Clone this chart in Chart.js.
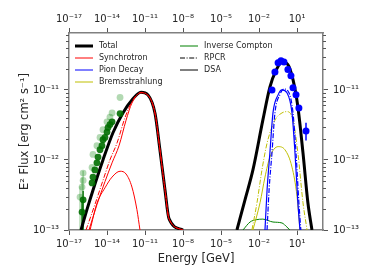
<!DOCTYPE html>
<html>
<head>
<meta charset="utf-8">
<script src="https://cdn.jsdelivr.net/npm/chart.js@4.4.1/dist/chart.umd.min.js"></script>
<style>
  body { margin: 0; background: #fff; }
</style>
</head>
<body>
<canvas id="sedChart" width="374" height="280"></canvas>
<script>
// axis ticks
const energyTicks = [1e-17, 1e-14, 1e-11, 1e-8, 1e-5, 1e-2, 1e1];
const energyTickLabels = ['10⁻¹⁷', '10⁻¹⁴', '10⁻¹¹', '10⁻⁸', '10⁻⁵', '10⁻²', '10¹'];
const fluxTicks = [1e-13, 1e-12, 1e-11];
const fluxTickLabels = ['10⁻¹³', '10⁻¹²', '10⁻¹¹'];

// Total model (radio / X-ray hump and gamma hump)
const totalLowE = [8.9e-17, 2.6e-16, 7.8e-16, 4.8e-15, 2.95e-14, 1.8e-13, 9.3e-13, 4.8e-12, 1.7e-11, 6.2e-11, 1.5e-10, 3.8e-10, 7.8e-10, 1.0e-8];
const totalLowF = [1.0e-13, 1.95e-13, 3.7e-13, 1.0e-12, 2.45e-12, 4.7e-12, 7.2e-12, 9.3e-12, 8.5e-12, 4.6e-12, 1.4e-12, 3.7e-13, 1.45e-13, 1.0e-13];
const totalHighE = [1.8e-4, 7.8e-4, 3.3e-3, 2.0e-2, 7.2e-2, 0.22, 0.65, 1.9, 4.8, 11.7, 29.5, 72, 151];
const totalHighF = [1.0e-13, 2.7e-13, 7.2e-13, 3.7e-12, 1.1e-11, 1.9e-11, 2.5e-11, 2.3e-11, 1.4e-11, 5.7e-12, 1.26e-12, 2.45e-13, 1.0e-13];

// Synchrotron
const synRpcrE = [2.2e-16, 1.1e-15, 4.8e-15, 1.7e-14, 6.2e-14, 2.6e-13, 9.3e-13, 4.8e-12, 1.7e-11, 6.2e-11, 1.5e-10, 3.8e-10, 7.8e-10, 1.0e-8];
const synRpcrF = [1.0e-13, 2.3e-13, 5.1e-13, 1.0e-12, 1.75e-12, 4.0e-12, 6.8e-12, 9.2e-12, 8.4e-12, 4.6e-12, 1.4e-12, 3.7e-13, 1.45e-13, 1.0e-13];
const synE = [3.8e-16, 1.6e-15, 6.9e-15, 2.5e-14, 8.9e-14, 3.2e-13, 9.3e-13, 4.8e-12, 1.7e-11, 6.2e-11, 1.5e-10, 3.8e-10, 7.8e-10, 1.0e-8];
const synF = [1.0e-13, 2.3e-13, 4.9e-13, 9.1e-13, 1.6e-12, 3.7e-12, 6.5e-12, 9.1e-12, 8.4e-12, 4.6e-12, 1.4e-12, 3.7e-13, 1.45e-13, 1.0e-13];
const synDsaE = [4.6e-16, 1.6e-15, 6.9e-15, 2.5e-14, 1.07e-13, 3.2e-13, 9.3e-13, 2.3e-12, 4.0e-12];
const synDsaF = [1.0e-13, 2.4e-13, 4.0e-13, 5.7e-13, 6.9e-13, 6.3e-13, 4.1e-13, 1.95e-13, 1.0e-13];

// Pion decay
const pionE = [0.0295, 0.043, 0.072, 0.126, 0.32, 0.65, 1.6, 4.0, 6.9, 11.7, 17];
const pionF = [1.0e-13, 3.7e-13, 1.26e-12, 4.7e-12, 8.5e-12, 1.0e-11, 9.1e-12, 4.7e-12, 1.26e-12, 2.45e-13, 1.0e-13];
const pionRpcrE = [0.043, 0.062, 0.105, 0.18, 0.46, 0.93, 2.3, 4.8, 8.3, 14, 20];
const pionRpcrF = [1.0e-13, 3.7e-13, 1.26e-12, 4.7e-12, 8.7e-12, 1.03e-11, 9.1e-12, 4.7e-12, 1.26e-12, 2.45e-13, 1.0e-13];

// Bremsstrahlung
const bremRpcrE = [2.75e-3, 6.9e-3, 0.017, 0.043, 0.18, 0.65, 1.6, 4.8, 11.7, 29.5, 62];
const bremRpcrF = [1.0e-13, 2.45e-13, 7.2e-13, 1.74e-12, 3.7e-12, 4.7e-12, 4.9e-12, 3.7e-12, 1.26e-12, 2.45e-13, 1.0e-13];
const bremE = [3.3e-3, 0.012, 0.0295, 0.072, 0.32, 1.1, 4.0, 10, 17];
const bremF = [1.0e-13, 2.45e-13, 5.7e-13, 1.1e-12, 1.55e-12, 1.4e-12, 7.9e-13, 3.0e-13, 1.0e-13];

// Inverse Compton
const icE = [5.4e-4, 1.95e-3, 5.8e-3, 0.02, 0.126, 0.65, 1.6, 2.75];
const icF = [1.0e-13, 1.3e-13, 1.4e-13, 1.43e-13, 1.3e-13, 1.26e-13, 1.1e-13, 1.0e-13];

// gamma-ray points
const fermiE = [0.105, 0.18, 0.32, 0.54, 0.93, 1.9, 3.3, 4.8, 8.3, 14, 51];
const fermiF = [1.0e-11, 1.8e-11, 2.45e-11, 2.6e-11, 2.5e-11, 1.95e-11, 1.6e-11, 1.07e-11, 8.5e-12, 5.5e-12, 2.6e-12];
const fermiLo = [null, null, null, null, null, null, null, null, null, null, 1.9e-12];
const fermiHi = [null, null, null, null, null, null, null, null, null, null, 3.4e-12];

// radio points
const radioE = [1.07e-16, 1.3e-16, 6.6e-16, 7.8e-16, 1.1e-15, 1.6e-15, 1.95e-15, 2.8e-15, 4.0e-15, 4.8e-15, 6.9e-15, 1.0e-14, 1.2e-14, 1.7e-14, 2.5e-14, 1.07e-13];
const radioF = [1.8e-13, 2.7e-13, 4.7e-13, 5.7e-13, 7.2e-13, 9.1e-13, 1.1e-12, 1.4e-12, 1.6e-12, 1.95e-12, 2.1e-12, 2.5e-12, 2.9e-12, 3.2e-12, 3.5e-12, 4.6e-12];
const radioLo = [5e-14, 5e-14];
const radioHi = [2.6e-13, 3.6e-13];
const radioOldE = [7.4e-17, 1.07e-16, 1.3e-16, 1.3e-16, 6.6e-16, 7.8e-16, 1.6e-15, 2.8e-15, 4.8e-15, 1.0e-14, 1.7e-14, 2.5e-14, 1.07e-13];
const radioOldF = [2.95e-13, 4.1e-13, 5.1e-13, 6.5e-13, 7.8e-13, 1.2e-12, 1.6e-12, 2.1e-12, 2.7e-12, 3.5e-12, 4.1e-12, 4.7e-12, 7.8e-12];
const radioOldLo = [5e-14, 5e-14, 5e-14];
const radioOldHi = [4.2e-13, 5.6e-13, 7.0e-13];

const xMin = 1e-17, xMax = 1.12e3;
const yMin = 1e-13, yMax = 6.5e-11;

const FONT = 'DejaVu Sans';
const TEXT = '#262626';
const DASHDOT = [5, 1.6, 1, 1.6];

function pts(xs, ys) {
    return xs.map((x, i) => ({ x: x, y: ys[i] }));
}

function curve(xs, ys, color, width, dash, order) {
    return {
        data: pts(xs, ys),
        borderColor: color,
        borderWidth: width,
        borderDash: dash || [],
        pointRadius: 0,
        fill: false,
        cubicInterpolationMode: 'monotone',
        order: order
    };
}

function points(xs, ys, color, radius) {
    return {
        type: 'scatter',
        data: pts(xs, ys),
        backgroundColor: color,
        borderColor: color,
        borderWidth: 0,
        pointRadius: radius,
        showLine: false,
        order: 0
    };
}

// error bars: drawn through the chart's scales
function drawErrors(chart, xs, lo, hi, color) {
    const ctx = chart.ctx, a = chart.chartArea;
    const sx = chart.scales.x, sy = chart.scales.y;
    ctx.save();
    ctx.beginPath();
    ctx.rect(a.left, a.top, a.right - a.left, a.bottom - a.top);
    ctx.clip();
    ctx.strokeStyle = color;
    ctx.lineWidth = 1.5;
    lo.forEach((l, i) => {
        if (l == null) return;
        const px = sx.getPixelForValue(xs[i]);
        ctx.beginPath();
        ctx.moveTo(px, sy.getPixelForValue(l));
        ctx.lineTo(px, sy.getPixelForValue(hi[i]));
        ctx.stroke();
    });
    ctx.restore();
}

const legendItems = [
    { text: 'Total', color: '#000', width: 3, dash: [], x: 75, y: 46 },
    { text: 'Synchrotron', color: '#ff0000', width: 1, dash: [], x: 75, y: 58 },
    { text: 'Pion Decay', color: '#0000ff', width: 1, dash: [], x: 75, y: 70 },
    { text: 'Bremsstrahlung', color: '#bfbf00', width: 1, dash: [], x: 75, y: 82 },
    { text: 'Inverse Compton', color: '#008000', width: 1, dash: [], x: 180, y: 46 },
    { text: 'RPCR', color: '#000', width: 1, dash: DASHDOT, x: 180, y: 58 },
    { text: 'DSA', color: '#000', width: 1, dash: [], x: 180, y: 70 }
];

const extras = {
    id: 'extras',
    beforeDatasetsDraw(chart) {
        drawErrors(chart, radioOldE, radioOldLo, radioOldHi, 'rgba(0,128,0,0.3)');
        drawErrors(chart, radioE, radioLo, radioHi, 'rgba(0,110,0,0.9)');
        drawErrors(chart, fermiE, fermiLo, fermiHi, '#0000ff');
    },
    afterDraw(chart) {
        const ctx = chart.ctx;
        // minor ticks on both flux axes
        const yl = chart.scales.y, yr = chart.scales.yRight;
        ctx.save();
        ctx.strokeStyle = '#555';
        ctx.lineWidth = 1;
        for (let d = -13; d <= -11; d++) {
            for (let m = 2; m <= 9; m++) {
                const v = m * Math.pow(10, d);
                if (v > yMax) continue;
                const py = Math.round(yl.getPixelForValue(v)) + 0.5;
                ctx.beginPath();
                ctx.moveTo(yl.right - 3, py); ctx.lineTo(yl.right, py);
                ctx.moveTo(yr.left, py); ctx.lineTo(yr.left + 3, py);
                ctx.stroke();
            }
        }
        // legend
        ctx.font = '8px "' + FONT + '"';
        ctx.textBaseline = 'middle';
        ctx.textAlign = 'left';
        legendItems.forEach(it => {
            ctx.strokeStyle = it.color;
            ctx.lineWidth = it.width;
            ctx.setLineDash(it.dash);
            ctx.beginPath();
            ctx.moveTo(it.x, it.y);
            ctx.lineTo(it.x + 18, it.y);
            ctx.stroke();
            ctx.setLineDash([]);
            ctx.fillStyle = TEXT;
            ctx.fillText(it.text, it.x + 24, it.y);
        });
        ctx.restore();
    }
};

const frame = { display: true, color: '#808080', width: 1.5 };
const gridOpts = { drawOnChartArea: false, drawTicks: true, tickLength: 5, color: '#555', tickWidth: 1 };

function energyAxis(position, height, title) {
    return {
        type: 'logarithmic',
        position: position,
        min: xMin,
        max: xMax,
        border: frame,
        grid: gridOpts,
        afterBuildTicks: s => { s.ticks = energyTicks.map(v => ({ value: v, major: true })); },
        afterFit: s => { s.height = height; },
        ticks: {
            autoSkip: false,
            maxRotation: 0,
            padding: 3,
            color: TEXT,
            font: { family: FONT, size: 10 },
            callback: (v, i) => energyTickLabels[i]
        },
        title: title
    };
}

function fluxAxis(position, width, title) {
    return {
        type: 'logarithmic',
        position: position,
        min: yMin,
        max: yMax,
        border: frame,
        grid: gridOpts,
        afterBuildTicks: s => { s.ticks = fluxTicks.map(v => ({ value: v, major: true })); },
        afterFit: s => { s.width = width; },
        ticks: {
            autoSkip: false,
            padding: 5,
            color: TEXT,
            font: { family: FONT, size: 10 },
            callback: (v, i) => fluxTickLabels[i]
        },
        title: title
    };
}

new Chart(document.getElementById('sedChart'), {
    type: 'line',
    data: {
        datasets: [
            points(fermiE, fermiF, '#0000ff', 3.5),
            points(radioE, radioF, 'rgba(0,110,0,0.9)', 3.4),
            points(radioOldE, radioOldF, 'rgba(0,128,0,0.3)', 3.4),
            curve(synDsaE, synDsaF, '#ff0000', 1, [], 1),
            curve(synE, synF, '#ff0000', 1, [], 1),
            curve(synRpcrE, synRpcrF, '#ff0000', 1, DASHDOT, 1),
            curve(pionE, pionF, '#0000ff', 1.2, [], 1),
            curve(pionRpcrE, pionRpcrF, '#0000ff', 1.2, DASHDOT, 1),
            curve(bremE, bremF, '#bfbf00', 1, [], 1),
            curve(bremRpcrE, bremRpcrF, '#bfbf00', 1, DASHDOT, 1),
            curve(icE, icF, '#008000', 1, [], 1),
            curve(totalLowE, totalLowF, '#000', 3, [], 2),
            curve(totalHighE, totalHighF, '#000', 3, [], 2)
        ]
    },
    options: {
        responsive: false,
        animation: false,
        layout: { padding: 0 },
        plugins: { legend: { display: false }, tooltip: { enabled: false } },
        scales: {
            x: energyAxis('bottom', 50, {
                display: true, text: 'Energy [GeV]', color: TEXT,
                font: { family: FONT, size: 11.5 }, padding: { top: 0, bottom: 14 }
            }),
            xTop: energyAxis('top', 33, { display: false }),
            y: fluxAxis('left', 69, {
                display: true, text: 'E² Flux [erg cm² s⁻¹]', color: TEXT,
                font: { family: FONT, size: 11.5 }, padding: { top: 18, bottom: 0 }
            }),
            yRight: fluxAxis('right', 51, { display: false })
        }
    },
    plugins: [extras]
});
</script>
</body>
</html>
